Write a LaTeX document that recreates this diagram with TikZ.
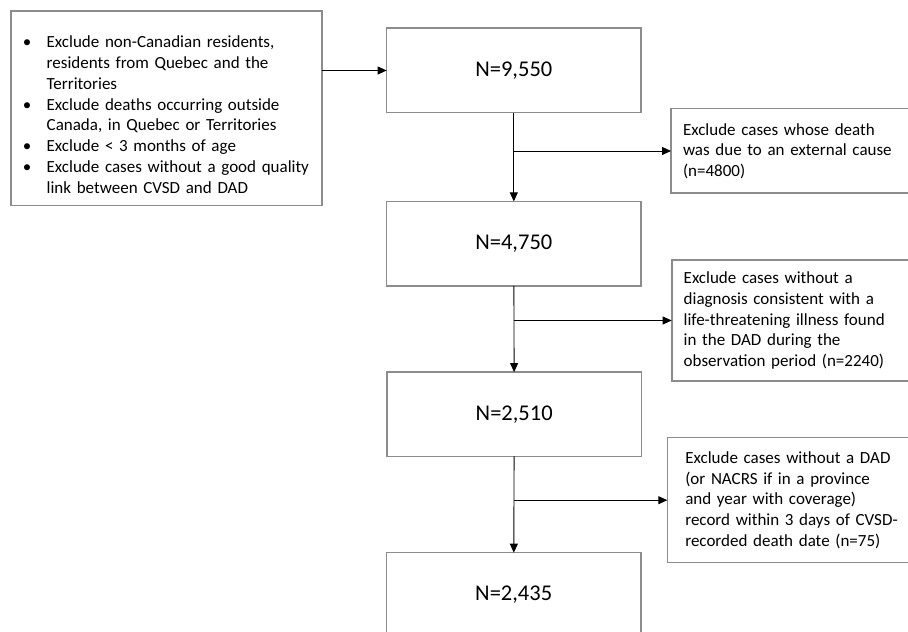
\documentclass[tikz,border=0pt]{standalone}
\usepackage{fontspec}
\setmainfont{Carlito}
\usetikzlibrary{arrows.meta}
\definecolor{boxgray}{RGB}{140,140,140}

\begin{document}
\begin{tikzpicture}[x=1pt,y=1pt,
    box/.style={draw=boxgray,line width=1.6pt,fill=white,inner sep=0pt,outer sep=0pt},
    countbox/.style={box,minimum width=254.3pt,minimum height=84.4pt,font=\fontsize{22.5}{27}\selectfont},
    exclbox/.style={inner sep=0pt,outer sep=0pt,anchor=west,inner xsep=12pt,text width=320pt,align=left,font=\fontsize{17}{20.7}\selectfont},
    openside/.style={draw=boxgray,line width=1.6pt},
    arr/.style={-{Triangle[length=9pt,width=8pt]},line width=0.9pt,black}]
    \useasboundingbox (0,0) rectangle (908,632);
    \node [box,minimum height=194.7pt,inner xsep=16pt,text width=278.7pt,align=left,font=\fontsize{17}{20.9}\selectfont] (crit) at (166.35,523.65)
        {\begin{tabular}{@{}l@{}l@{}}
         \noalign{\vskip 16pt}
         \makebox[0pt]{\textbullet}\hspace{19.7pt} & Exclude non-Canadian residents,\\
                     & residents from Quebec and the\\
                     & Territories\\
         \makebox[0pt]{\textbullet}\hspace{19.7pt} & Exclude deaths occurring outside\\
                     & Canada, in Quebec or Territories\\
         \makebox[0pt]{\textbullet}\hspace{19.7pt} & Exclude < 3 months of age\\
         \makebox[0pt]{\textbullet}\hspace{19.7pt} & Exclude cases without a good quality\\
                     & link between CVSD and DAD
         \end{tabular}};
    \node [countbox] (n1) at (513.8,561.5) {N=9,550};
    \node [countbox] (n2) at (513.8,388.4) {N=4,750};
    \node [countbox] (n3) at (514.2,217.7) {N=2,510};
    \node [countbox] (n4) at (513.7,37.1) {N=2,435};
    \node [exclbox,minimum height=84.6pt] (ex1) at (671,481)
        {Exclude cases whose death\\was due to an external cause\\(n=4800)};
    \node [exclbox,minimum height=121pt] (ex2) at (671.7,311.5)
        {Exclude cases without a\\diagnosis consistent with a\\life-threatening illness found\\in the DAD during the\\observation period (n=2240)};
    \node [exclbox,minimum height=125pt,inner xsep=18pt] (ex3) at (667.3,131.8)
        {Exclude cases without a DAD\\(or NACRS if in a province\\and year with coverage)\\record within 3 days of CVSD-\\recorded death date (n=75)};
    \foreach \ex in {ex1,ex2,ex3}
        \draw [openside] (\ex.north east) -- (\ex.north west) -- (\ex.south west) -- (\ex.south east);
    \draw [arr] (crit.east |- n1.west) -- (n1.west);
    \draw [arr] (n1) -- (n2);
    \draw [arr] (n2) -- (n3);
    \draw [arr] (n3) -- (n4);
    \draw [arr] (n1.south |- ex1.west) -- (ex1.west);
    \draw [arr] (n2.south |- ex2.west) -- (ex2.west);
    \draw [arr] (n3.south |- ex3.west) -- (ex3.west);
\end{tikzpicture}
\end{document}
